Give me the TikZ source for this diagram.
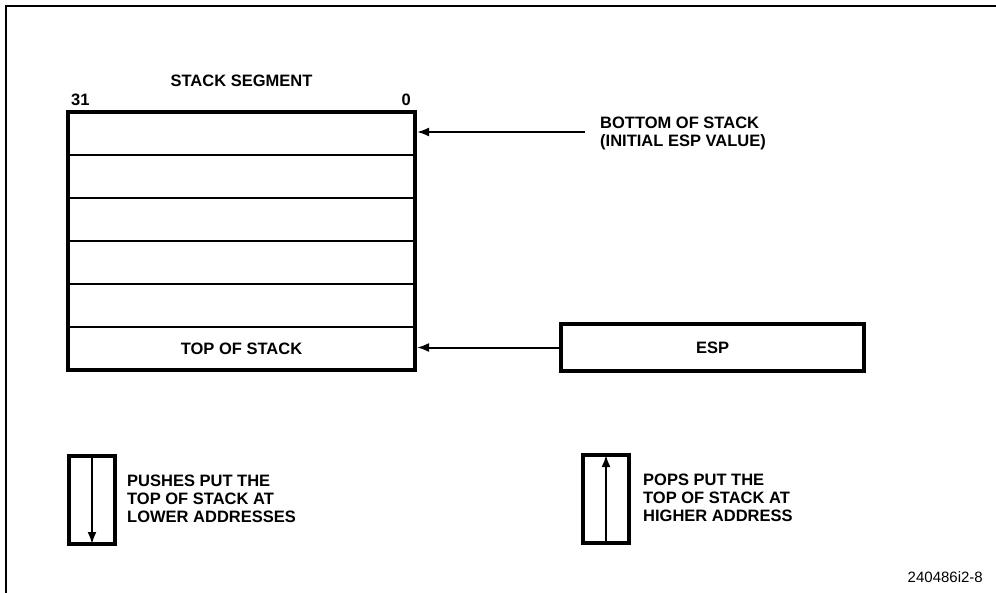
\documentclass[tikz,border=0pt]{standalone}
\usepackage{fontspec}
\setmainfont{Liberation Sans}
\usepackage{tikz}
\usetikzlibrary{arrows.meta, positioning}

\begin{document}
\begin{tikzpicture}[
  x=1pt, y=-1pt,
  font=\fontsize{16.5}{18}\selectfont\bfseries,
  row/.style={draw, line width=2pt, minimum width=347pt, minimum height=43pt, inner sep=0pt, outer sep=0pt, anchor=north west},
  tag/.style={inner sep=0pt, align=left, anchor=west},
  arr/.style={-{Latex[length=12pt, width=9pt]}, line width=2pt},
  sign/.style={draw, line width=4pt, minimum width=46pt, minimum height=88pt, inner sep=0pt, outer sep=0pt, anchor=north west}
]
  \useasboundingbox (0,0) rectangle (996,592);
  % frame
  \draw[line width=2.5pt] (6,600) -- (6,6) -- (1000,6);

  % stack segment
  \node[row] (r1) at (68,112) {};
  \node[row, below=0pt of r1] (r2) {};
  \node[row, below=0pt of r2] (r3) {};
  \node[row, below=0pt of r3] (r4) {};
  \node[row, below=0pt of r4] (r5) {};
  \node[row, below=0pt of r5] (r6) {TOP OF STACK};
  \draw[line width=4pt] (r1.north west) rectangle (r6.south east);
  \node[above=25pt of r1.north, inner sep=0pt] (title) {STACK SEGMENT};
  \node[above right=6pt and 3pt of r1.north west, inner sep=0pt] (b31) {31};
  \node[above left=6pt and 4pt of r1.north east, inner sep=0pt] (b0) {0};

  % bottom of stack
  \node[tag] (bot) at (600,133) {BOTTOM OF STACK\\(INITIAL ESP VALUE)};
  \coordinate (botend) at (585,132);
  \draw[arr] (botend) -- ([xshift=2pt]r1.north east |- botend);

  % esp register
  \node[draw, line width=4pt, minimum width=303pt, minimum height=47pt, inner sep=0pt, outer sep=0pt] (esp) at (712.5,347.5) {ESP};
  \draw[arr] ([xshift=-2pt]esp.west) -- ([xshift=2pt]r6.east |- esp.west);

  % push / pop legend
  \node[sign] (push) at (69,456) {};
  \draw[arr] (push.north) -- (push.south);
  \node[tag, right=12pt of push.north east, anchor=north west, yshift=-19pt] (pushtxt) {PUSHES PUT THE\\TOP OF STACK AT\\LOWER ADDRESSES};

  \node[sign] (pop) at (583,455) {};
  \draw[arr] (pop.south) -- (pop.north);
  \node[tag, right=14pt of pop.north east, anchor=north west, yshift=-19pt] (poptxt) {POPS PUT THE\\TOP OF STACK AT\\HIGHER ADDRESS};

  \node[inner sep=0pt, anchor=east, font=\fontsize{15}{18}\selectfont] (fig) at (983,577) {240486i2-8};
\end{tikzpicture}
\end{document}
